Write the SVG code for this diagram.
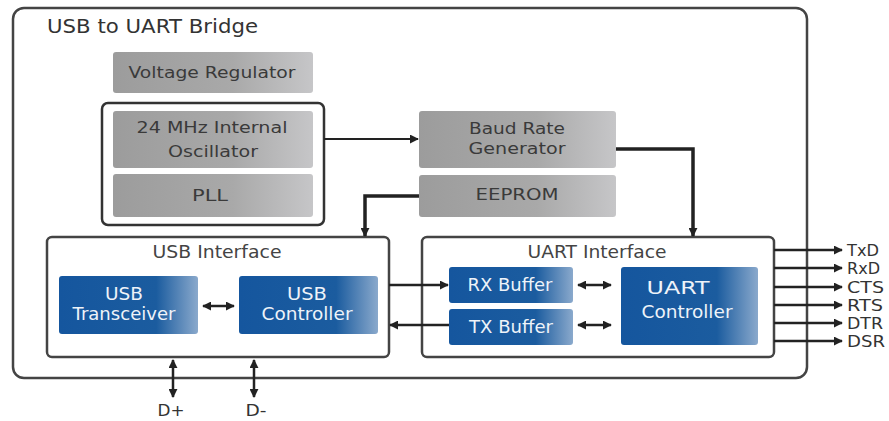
<svg xmlns="http://www.w3.org/2000/svg" width="889" height="421" viewBox="0 0 889 421">
<defs>
<linearGradient id="gray" x1="0" y1="0" x2="1" y2="0">
<stop offset="0" stop-color="#9c9c9c"/><stop offset="0.6" stop-color="#a9a9a9"/><stop offset="1" stop-color="#c6c6c8"/>
</linearGradient>
<linearGradient id="blue" x1="0" y1="0" x2="1" y2="0">
<stop offset="0" stop-color="#15569e"/><stop offset="0.7" stop-color="#1b5c9f"/><stop offset="1" stop-color="#8aa9cc"/>
</linearGradient>
<marker id="ah" viewBox="0 0 10 10" refX="9" refY="5" markerWidth="9" markerHeight="9" markerUnits="userSpaceOnUse" orient="auto-start-reverse">
<path d="M0,0 L10,5 L0,10 z" fill="#222"/>
</marker>
</defs>
<style>
.frame{fill:#fff;stroke:#444;stroke-width:2.5}
.gbox{fill:url(#gray)}
.bbox{fill:url(#blue)}
.gt{font-family:"DejaVu Sans",sans-serif;font-size:16.5px;fill:#3a3a3a;text-anchor:middle}
.bt{font-family:"DejaVu Sans",sans-serif;font-size:17px;fill:#eef3f9;text-anchor:middle}
.ht{font-family:"DejaVu Sans",sans-serif;font-size:17px;fill:#444;text-anchor:middle}
.st{font-family:"DejaVu Sans",sans-serif;font-size:16.5px;fill:#333}
.c{fill:none;stroke:#222;stroke-width:2.5}
.ct{fill:none;stroke:#222;stroke-width:3.5}
.cn{fill:none;stroke:#222;stroke-width:2}
</style>
<g id="bridge">
<rect class="frame" x="13" y="8" width="794" height="370" rx="11"/>
<text x="47" y="33" textLength="211" lengthAdjust="spacingAndGlyphs" style="font-family:'DejaVu Sans',sans-serif;font-size:19px;fill:#333">USB to UART Bridge</text>
</g>
<g id="voltage-regulator">
<rect class="gbox" x="113" y="52" width="200" height="41" rx="3"/>
<text class="gt" x="212" y="78" textLength="167" lengthAdjust="spacingAndGlyphs">Voltage Regulator</text>
</g>
<g id="clock-group">
<rect x="102" y="103" width="222" height="122" rx="6" fill="#fff" stroke="#333" stroke-width="2.5"/>
</g>
<g id="oscillator">
<rect class="gbox" x="113" y="111" width="200" height="57" rx="3"/>
<text class="gt" x="212" y="133" textLength="151" lengthAdjust="spacingAndGlyphs">24 MHz Internal</text>
<text class="gt" x="213" y="157" textLength="90" lengthAdjust="spacingAndGlyphs">Oscillator</text>
</g>
<g id="pll">
<rect class="gbox" x="113" y="174" width="200" height="43" rx="3"/>
<text class="gt" x="210" y="201" textLength="36" lengthAdjust="spacingAndGlyphs">PLL</text>
</g>
<g id="baud-rate-generator">
<rect class="gbox" x="419" y="111" width="197" height="57" rx="3"/>
<text class="gt" x="517" y="134" textLength="96" lengthAdjust="spacingAndGlyphs">Baud Rate</text>
<text class="gt" x="517" y="154" textLength="97" lengthAdjust="spacingAndGlyphs">Generator</text>
</g>
<g id="eeprom">
<rect class="gbox" x="419" y="175" width="197" height="42" rx="3"/>
<text class="gt" x="517" y="200" textLength="83" lengthAdjust="spacingAndGlyphs">EEPROM</text>
</g>
<g id="usb-interface">
<rect class="frame" x="47" y="237" width="342" height="120" rx="5"/>
<text class="ht" x="217" y="258" textLength="129" lengthAdjust="spacingAndGlyphs">USB Interface</text>
</g>
<g id="usb-transceiver">
<rect class="bbox" x="59" y="276" width="139" height="58" rx="3"/>
<text class="bt" x="124" y="300" textLength="38" lengthAdjust="spacingAndGlyphs">USB</text>
<text class="bt" x="124" y="320" textLength="103" lengthAdjust="spacingAndGlyphs">Transceiver</text>
</g>
<g id="usb-controller">
<rect class="bbox" x="239" y="276" width="139" height="58" rx="3"/>
<text class="bt" x="307" y="300" textLength="40" lengthAdjust="spacingAndGlyphs">USB</text>
<text class="bt" x="307" y="320" textLength="91" lengthAdjust="spacingAndGlyphs">Controller</text>
</g>
<g id="uart-interface">
<rect class="frame" x="422" y="237" width="352" height="120" rx="5"/>
<text class="ht" x="597" y="258" textLength="139" lengthAdjust="spacingAndGlyphs">UART Interface</text>
</g>
<g id="rx-buffer">
<rect class="bbox" x="449" y="267" width="124" height="36" rx="3"/>
<text class="bt" x="510" y="291" textLength="85" lengthAdjust="spacingAndGlyphs">RX Buffer</text>
</g>
<g id="tx-buffer">
<rect class="bbox" x="449" y="309" width="124" height="36" rx="3"/>
<text class="bt" x="511" y="333" textLength="84" lengthAdjust="spacingAndGlyphs">TX Buffer</text>
</g>
<g id="uart-controller">
<rect class="bbox" x="621" y="267" width="137" height="78" rx="3"/>
<text class="bt" x="678" y="294" textLength="63" lengthAdjust="spacingAndGlyphs">UART</text>
<text class="bt" x="687" y="318" textLength="91" lengthAdjust="spacingAndGlyphs">Controller</text>
</g>
<g id="connectors">
<path class="cn" d="M324,139 H418" marker-end="url(#ah)"/>
<path class="ct" d="M616,149 H693 V236" marker-end="url(#ah)"/>
<path class="ct" d="M419,196 H365 V236" marker-end="url(#ah)"/>
<path class="c" d="M203,306 H234" marker-start="url(#ah)" marker-end="url(#ah)"/>
<path class="c" d="M389,285 H448" marker-end="url(#ah)"/>
<path class="c" d="M449,325 H390" marker-end="url(#ah)"/>
<path class="c" d="M578,285 H611" marker-start="url(#ah)" marker-end="url(#ah)"/>
<path class="c" d="M578,325 H611" marker-start="url(#ah)" marker-end="url(#ah)"/>
<path class="c" d="M173,360 V397" marker-start="url(#ah)" marker-end="url(#ah)"/>
<path class="c" d="M254,360 V397" marker-start="url(#ah)" marker-end="url(#ah)"/>
<path class="c" d="M774,250 H842" marker-end="url(#ah)"/>
<path class="c" d="M774,268 H842" marker-end="url(#ah)"/>
<path class="c" d="M774,287 H842" marker-end="url(#ah)"/>
<path class="c" d="M774,305 H842" marker-end="url(#ah)"/>
<path class="c" d="M774,323 H842" marker-end="url(#ah)"/>
<path class="c" d="M774,341 H842" marker-end="url(#ah)"/>
</g>
<g id="signal-labels">
<text class="st" x="847" y="256" textLength="32" lengthAdjust="spacingAndGlyphs">TxD</text>
<text class="st" x="847" y="274" textLength="33" lengthAdjust="spacingAndGlyphs">RxD</text>
<text class="st" x="847" y="293" textLength="37" lengthAdjust="spacingAndGlyphs">CTS</text>
<text class="st" x="847" y="311" textLength="36" lengthAdjust="spacingAndGlyphs">RTS</text>
<text class="st" x="847" y="329" textLength="36" lengthAdjust="spacingAndGlyphs">DTR</text>
<text class="st" x="847" y="347" textLength="38" lengthAdjust="spacingAndGlyphs">DSR</text>
<text class="st" x="171" y="416" text-anchor="middle" textLength="27" lengthAdjust="spacingAndGlyphs" style="font-size:15px">D+</text>
<text class="st" x="256" y="416" text-anchor="middle" textLength="21" lengthAdjust="spacingAndGlyphs" style="font-size:15px">D-</text>
</g>
</svg>
